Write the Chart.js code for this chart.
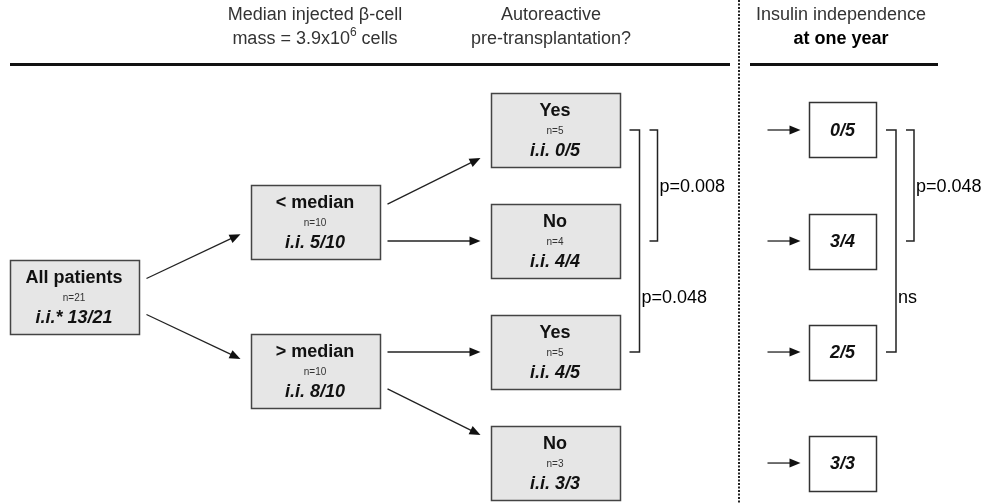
<!DOCTYPE html>
<html>
<head>
<meta charset="utf-8">
<script src="https://cdn.jsdelivr.net/npm/chart.js@4/dist/chart.umd.min.js"></script>
<style>
  html, body { margin: 0; padding: 0; background: #fff; }
  #wrap { width: 987px; height: 503px; }
</style>
</head>
<body>
<div id="wrap"><canvas id="flow" width="987" height="503"></canvas></div>
<script>
// Column headers (stage titles)
const stageTitles = [
    ['Median injected β-cell', 'mass = 3.9x10|6| cells'],
    ['Autoreactive', 'pre-transplantation?'],
    ['Insulin independence', '*at one year']
];

// Patient groups of the tree
const groupNames = ['All patients', '< median', '> median', 'Yes', 'No', 'Yes', 'No'];
const groupSizes = [21, 10, 10, 5, 4, 5, 3];
const independentCounts = [13, 5, 8, 0, 4, 4, 3];
const groupParent = [-1, 0, 0, 1, 1, 2, 2];

// Insulin independent at one year, per end group (top to bottom)
const oneYearIndependent = [0, 3, 2, 3];

// Comparisons between end groups, inner bracket first
const subgroupTests = [[3, 5, 'p=0.048'], [3, 4, 'p=0.008']];
const outcomeTests = [[3, 5, 'ns'], [3, 4, 'p=0.048']];

// Layout (not data)
const levelX = [74, 315, 555];
const outcomeX = 842.5;
const headerX = [315, 551, 841];
const FONT = '"Liberation Sans", Arial, sans-serif';

// place groups: leaves on rows 0..n, inner nodes pulled towards the middle
let levels = groupParent.map(function(p) { return 0; });
groupParent.forEach(function(p, i) { if (p >= 0) levels[i] = levels[p] + 1; });
let children = groupNames.map(function() { return []; });
groupParent.forEach(function(p, i) { if (p >= 0) children[p].push(i); });
let leaves = [];
groupNames.forEach(function(n, i) { if (children[i].length === 0) leaves.push(i); });
let rowOf = groupNames.map(function() { return 0; });
leaves.forEach(function(g, r) { rowOf[g] = r; });
const middleRow = (leaves.length - 1) / 2;
for (let i = groupNames.length - 1; i >= 0; i--) {
    if (children[i].length) {
        let mean = children[i].reduce(function(s, c) { return s + rowOf[c]; }, 0) / children[i].length;
        rowOf[i] = middleRow + (mean - middleRow) * 0.67;
    }
}
const groupPoints = groupNames.map(function(n, i) { return { x: levelX[levels[i]], y: rowOf[i] }; });
const outcomePoints = leaves.map(function(g) { return { x: outcomeX, y: rowOf[g] }; });

function drawArrow(ctx, x1, y1, x2, y2) {
    const a = Math.atan2(y2 - y1, x2 - x1);
    const len = 11, half = 4.5;
    ctx.strokeStyle = '#222';
    ctx.lineWidth = 1.3;
    ctx.beginPath();
    ctx.moveTo(x1, y1);
    ctx.lineTo(x2 - Math.cos(a) * len * 0.8, y2 - Math.sin(a) * len * 0.8);
    ctx.stroke();
    ctx.fillStyle = '#111';
    ctx.beginPath();
    ctx.moveTo(x2, y2);
    ctx.lineTo(x2 - Math.cos(a) * len + Math.sin(a) * half, y2 - Math.sin(a) * len - Math.cos(a) * half);
    ctx.lineTo(x2 - Math.cos(a) * len - Math.sin(a) * half, y2 - Math.sin(a) * len + Math.cos(a) * half);
    ctx.closePath();
    ctx.fill();
}

function drawBracket(ctx, x0, x1, ya, yb, label, ly) {
    ctx.strokeStyle = '#222';
    ctx.lineWidth = 1.5;
    ctx.beginPath();
    ctx.moveTo(x0, ya);
    ctx.lineTo(x1, ya);
    ctx.lineTo(x1, yb);
    ctx.lineTo(x0, yb);
    ctx.stroke();
    ctx.fillStyle = '#000';
    ctx.font = '18px ' + FONT;
    ctx.textAlign = 'left';
    ctx.textBaseline = 'middle';
    ctx.fillText(label, x1 + 2, ly);
}

const flowPlugin = {
    id: 'flow',
    afterDraw(chart) {
        const ctx = chart.ctx;
        const xs = chart.scales.x;
        const top = chart.chartArea.top;
        const groupEls = chart.getDatasetMeta(0).data;
        const outEls = chart.getDatasetMeta(1).data;
        ctx.save();

        // header titles
        ctx.textBaseline = 'middle';
        stageTitles.forEach(function(lines, k) {
            const cx = xs.getPixelForValue(headerX[k]);
            lines.forEach(function(line, j) {
                const y = top + 15 + j * 24;
                ctx.fillStyle = '#333';
                if (line[0] === '*') {
                    ctx.font = 'bold 18px ' + FONT;
                    ctx.fillStyle = '#000';
                    ctx.textAlign = 'center';
                    ctx.fillText(line.slice(1), cx, y);
                } else if (line.indexOf('|') >= 0) {
                    const parts = line.split('|');
                    ctx.font = '18px ' + FONT;
                    const w0 = ctx.measureText(parts[0]).width;
                    const w2 = ctx.measureText(parts[2]).width;
                    ctx.font = '12px ' + FONT;
                    const w1 = ctx.measureText(parts[1]).width;
                    let x = cx - (w0 + w1 + w2) / 2;
                    ctx.textAlign = 'left';
                    ctx.font = '18px ' + FONT;
                    ctx.fillText(parts[0], x, y);
                    ctx.font = '12px ' + FONT;
                    ctx.fillText(parts[1], x + w0, y - 6);
                    ctx.font = '18px ' + FONT;
                    ctx.fillText(parts[2], x + w0 + w1, y);
                } else {
                    ctx.font = '18px ' + FONT;
                    ctx.textAlign = 'center';
                    ctx.fillText(line, cx, y);
                }
            });
        });

        // header rules and dotted divider
        ctx.strokeStyle = '#111';
        ctx.lineWidth = 3;
        ctx.beginPath();
        ctx.moveTo(xs.getPixelForValue(10), top + 64.5);
        ctx.lineTo(xs.getPixelForValue(730), top + 64.5);
        ctx.moveTo(xs.getPixelForValue(750), top + 64.5);
        ctx.lineTo(xs.getPixelForValue(938), top + 64.5);
        ctx.stroke();
        ctx.lineWidth = 2;
        ctx.strokeStyle = '#222';
        ctx.setLineDash([2, 1.5]);
        ctx.beginPath();
        ctx.moveTo(xs.getPixelForValue(739), chart.chartArea.top);
        ctx.lineTo(xs.getPixelForValue(739), chart.chartArea.bottom);
        ctx.stroke();
        ctx.setLineDash([]);

        // group boxes
        const bw = 129, bh = 74;
        groupEls.forEach(function(el, i) {
            const l = Math.round(el.x - bw / 2) + 0.5, t = Math.round(el.y - bh / 2) + 0.5;
            ctx.fillStyle = '#e6e6e6';
            ctx.fillRect(l, t, bw, bh);
            ctx.strokeStyle = '#444';
            ctx.lineWidth = 1.5;
            ctx.strokeRect(l, t, bw, bh);
            ctx.textAlign = 'center';
            ctx.textBaseline = 'middle';
            ctx.fillStyle = '#111';
            ctx.font = 'bold 18px ' + FONT;
            ctx.fillText(groupNames[i], el.x, t + 18);
            ctx.fillStyle = '#333';
            ctx.font = '10px ' + FONT;
            ctx.fillText('n=' + groupSizes[i], el.x, t + 38);
            ctx.fillStyle = '#111';
            ctx.font = 'italic bold 18px ' + FONT;
            ctx.fillText((i === 0 ? 'i.i.* ' : 'i.i. ') + independentCounts[i] + '/' + groupSizes[i], el.x, t + 58);
        });

        // arrows between groups
        groupParent.forEach(function(p, i) {
            if (p < 0) return;
            const a = groupEls[p], b = groupEls[i];
            const x1 = a.x + bw / 2 + 8, x2 = b.x - bw / 2 - 10;
            if (Math.abs(b.y - a.y) < bh / 2) {
                drawArrow(ctx, x1, b.y, x2, b.y);
            } else {
                const dir = b.y > a.y ? 1 : -1;
                const endOff = levels[p] === 0 ? 12 : 28;
                drawArrow(ctx, x1, a.y + dir * 18, x2, b.y - dir * endOff);
            }
        });

        // outcome boxes
        const ow = 67, oh = 55;
        outEls.forEach(function(el, k) {
            const g = leaves[k];
            const l = Math.round(el.x - ow / 2) + 0.5, t = Math.round(el.y - oh / 2) + 0.5;
            ctx.fillStyle = '#fff';
            ctx.fillRect(l, t, ow, oh);
            ctx.strokeStyle = '#333';
            ctx.lineWidth = 1.5;
            ctx.strokeRect(l, t, ow, oh);
            ctx.fillStyle = '#111';
            ctx.font = 'italic bold 18px ' + FONT;
            ctx.textAlign = 'center';
            ctx.textBaseline = 'middle';
            ctx.fillText(oneYearIndependent[k] + '/' + groupSizes[g], el.x, el.y + 1);
            drawArrow(ctx, l - 42, el.y, l - 9, el.y);
        });

        // comparison brackets
        function brackets(tests, rightEdge, yOf) {
            tests.forEach(function(t, lane) {
                const ya = yOf(t[0]), yb = yOf(t[1]);
                const prev = yOf(leaves[leaves.indexOf(t[1]) - 1]);
                const x0 = rightEdge + (lane === 0 ? 10 : 30);
                const x1 = rightEdge + (lane === 0 ? 20 : 38);
                drawBracket(ctx, x0, x1, ya, yb, t[2], (prev + yb) / 2 + 2);
            });
        }
        brackets(subgroupTests, groupEls[3].x + bw / 2, function(g) { return groupEls[g].y; });
        brackets(outcomeTests, outEls[0].x + ow / 2, function(g) { return outEls[leaves.indexOf(g)].y; });

        ctx.restore();
    }
};

new Chart(document.getElementById('flow'), {
    type: 'scatter',
    data: {
        datasets: [
            { label: 'groups', data: groupPoints, pointRadius: 0 },
            { label: 'outcomes', data: outcomePoints, pointRadius: 0 }
        ]
    },
    options: {
        responsive: false,
        animation: false,
        devicePixelRatio: 1,
        layout: { padding: 0 },
        plugins: { legend: { display: false }, tooltip: { enabled: false } },
        scales: {
            x: { type: 'linear', min: 0, max: 987, display: false },
            y: { type: 'linear', min: -1.171, max: 3.36, reverse: true, display: false }
        }
    },
    plugins: [flowPlugin]
});
</script>
</body>
</html>
